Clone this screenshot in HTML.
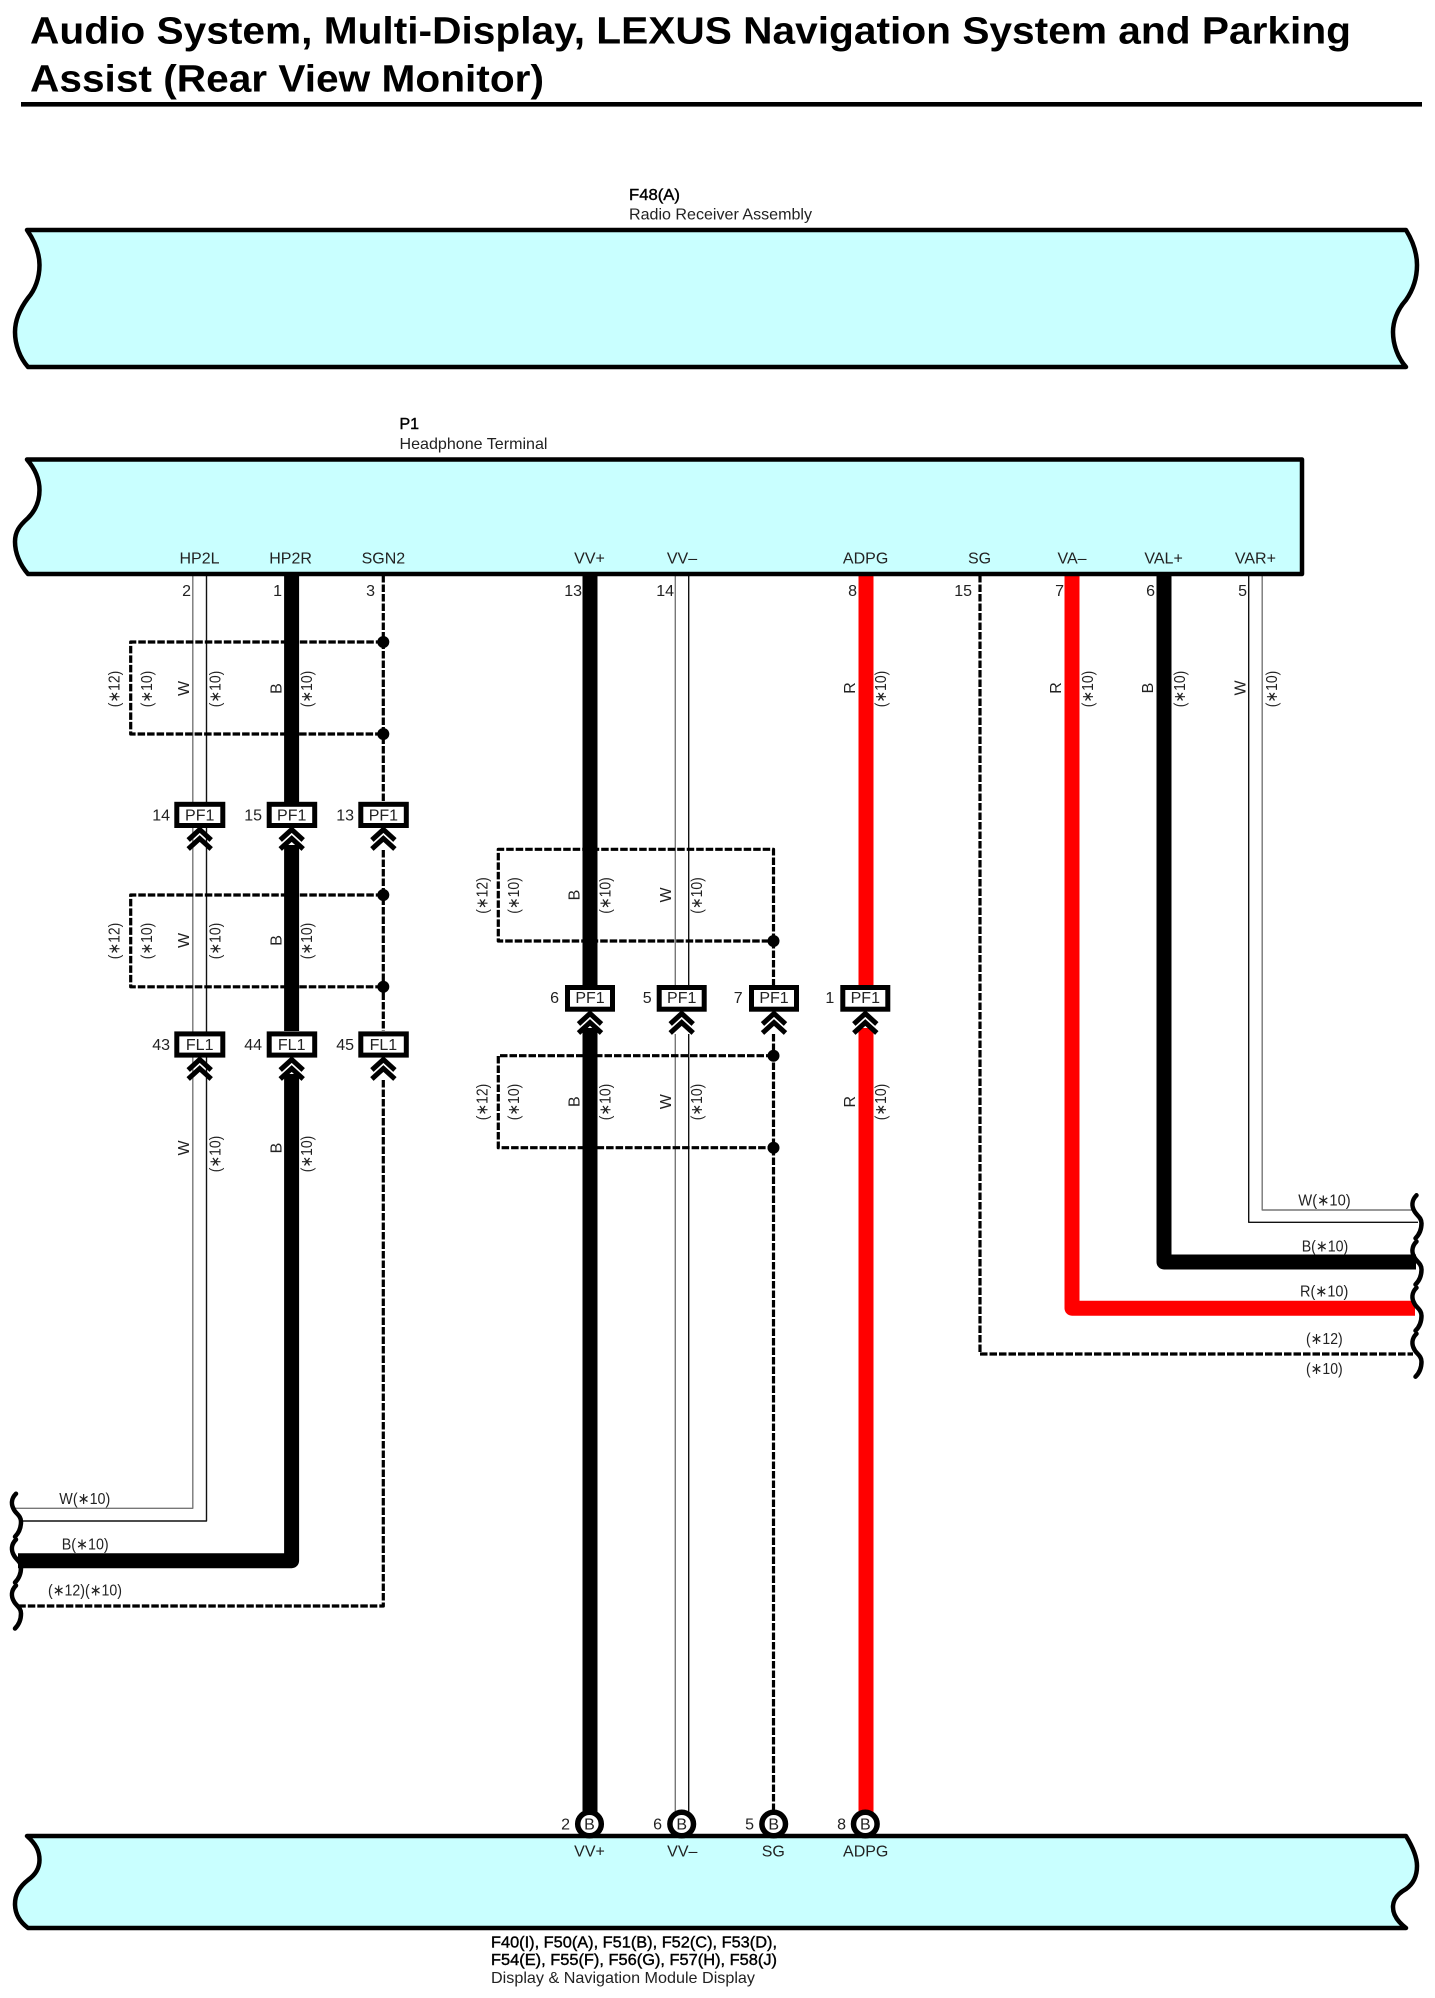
<!DOCTYPE html>
<html><head><meta charset="utf-8"><style>
html,body{margin:0;padding:0;background:#fff}
svg{display:block}
text{font-family:"Liberation Sans",sans-serif;font-size:16px;fill:#222}
.m{text-anchor:middle}.e{text-anchor:end}
.b{stroke:#000;stroke-width:.4px;fill:#000}
.n{fill:none;stroke-linejoin:round}
.k{stroke:#000;stroke-width:15}.r{stroke:#f00;stroke-width:15}
.g{stroke:#777;stroke-width:1.4}.t{stroke:#111;stroke-width:1.4}
.d{stroke:#000;stroke-width:3.2;stroke-dasharray:7.5 2;fill:none}
.box{fill:#c9ffff;stroke:#000;stroke-width:4.5;stroke-linejoin:round}
.c{fill:#fff;stroke:#000;stroke-width:5}
.o{fill:#fff;stroke:#000;stroke-width:5.5}
</style></head><body>
<svg width="1435" height="1998" viewBox="0 0 1435 1998" xmlns="http://www.w3.org/2000/svg">
<defs>
<g id="chev"><path d="M-11.5,14L0,3.5L11.5,14M-11.5,23L0,12.5L11.5,23" fill="none" stroke="#000" stroke-width="5"/></g>
<path id="br" d="M5,1C0,6 0,12 3,17C5,21 10,23 10,29C10,35 8,40 4,44" fill="none" stroke="#000" stroke-width="4.5" stroke-linecap="round"/>
</defs>

<text x="30" y="43.5" textLength="1321" lengthAdjust="spacingAndGlyphs" style="font-size:38px;font-weight:bold;fill:#000">Audio System, Multi-Display, LEXUS Navigation System and Parking</text>
<text x="30" y="91.7" textLength="514" lengthAdjust="spacingAndGlyphs" style="font-size:38px;font-weight:bold;fill:#000">Assist (Rear View Monitor)</text>
<rect x="21" y="102" width="1401" height="4.6" fill="#000"/>

<text x="629" y="200" class="b" textLength="51" lengthAdjust="spacingAndGlyphs">F48(A)</text>
<text x="629" y="219.5" textLength="183" lengthAdjust="spacingAndGlyphs">Radio Receiver Assembly</text>
<path class="box" d="M27,230L1406,230C1414,243 1417,255 1417,265C1417,278 1413,290 1406,300C1397,310 1393,322 1393,332C1393,345 1398,358 1406,367L28,367C20,358 15,345 15,332C15,322 19,310 28,298C35,290 39.5,278 39.5,265C39.5,255 36,243 27,230Z"/>

<text x="399.5" y="429" class="b">P1</text>
<text x="399.5" y="449" textLength="148" lengthAdjust="spacingAndGlyphs">Headphone Terminal</text>

<!-- wires -->
<g class="n">
<path class="g" d="M192.8,575V1508.3H15"/>
<path class="t" d="M206.5,575V1521H22"/>
<path class="k" d="M291.6,575V802M291.6,845V1031M291.6,1074V1560.7H18"/>
<path class="d" d="M383.3,575V802M383.3,850V1031M383.3,1080V1606H18"/>
<path class="d" d="M383.3,642H130.7V734H383.3"/>
<path class="d" d="M383.3,895H130.7V986.8H383.3"/>

<path class="k" d="M590,575V985M590,1028V1812"/>
<path class="g" d="M675.3,575V985M675.3,1034V1812"/>
<path class="t" d="M688.7,575V985M688.7,1034V1812"/>
<path class="d" d="M773.5,941V985M773.5,1034V1812"/>
<path class="d" d="M773.5,941V849.3H498.3V941H773.5"/>
<path class="d" d="M773.5,1055.7H498.3V1147.7H773.5"/>
<path class="r" d="M866,575V985M866,1028V1812"/>

<path class="d" d="M980,575V1354H1413"/>
<path class="r" d="M1072,575V1308.2H1415"/>
<path class="k" d="M1164,575V1262H1416"/>
<path class="t" d="M1248.7,575V1222.3H1418"/>
<path class="g" d="M1262.2,575V1210H1413"/>
</g>

<path class="box" d="M27,459.5L1302,459.5L1302,574L28,574C20,565 15,553 15,541.7C15,532 19,526 28,518C35,511 39.5,502 39.5,490C39.5,480 36,470 27,459.5Z"/>
<path class="box" d="M27,1836L1406,1836C1414,1849 1417,1859 1417,1866C1417,1876 1413,1884 1406,1889C1397,1894 1393,1900 1393,1907C1393,1915 1398,1922 1406,1928L28,1928C20,1922 15,1914 15,1904C15,1895 19,1887 28,1880C35,1875 39.5,1869 39.5,1860C39.5,1851 36,1844 27,1836Z"/>

<!-- pin names -->
<g class="m">
<text class="m" x="199.5" y="563.5">HP2L</text><text class="m" x="290.6" y="563.5">HP2R</text><text class="m" x="383.4" y="563.5">SGN2</text>
<text class="m" x="589.5" y="563.5">VV+</text><text class="m" x="682" y="563.5">VV–</text><text class="m" x="865.6" y="563.5">ADPG</text>
<text class="m" x="979.5" y="563.5">SG</text><text class="m" x="1072" y="563.5">VA–</text><text class="m" x="1163.6" y="563.5">VAL+</text><text class="m" x="1255.4" y="563.5">VAR+</text>
</g>
<text class="e" x="191" y="596">2</text><text class="e" x="282" y="596">1</text><text class="e" x="375" y="596">3</text>
<text class="e" x="582" y="596">13</text><text class="e" x="674" y="596">14</text><text class="e" x="857" y="596">8</text>
<text class="e" x="972" y="596">15</text><text class="e" x="1064" y="596">7</text><text class="e" x="1155" y="596">6</text><text class="e" x="1247" y="596">5</text>

<!-- junction dots -->
<g fill="#000">
<circle cx="383.3" cy="642" r="6"/><circle cx="383.3" cy="734" r="6"/><circle cx="383.3" cy="895" r="6"/><circle cx="383.3" cy="986.8" r="6"/>
<circle cx="773.5" cy="941" r="6"/><circle cx="773.5" cy="1055.7" r="6"/><circle cx="773.5" cy="1147.7" r="6"/>
</g>

<!-- connectors left -->
<g>
<rect class="c" x="176.8" y="804.3" width="46" height="21.2"/><rect class="c" x="269.2" y="804.3" width="45.5" height="21.2"/><rect class="c" x="360.8" y="804.3" width="45.5" height="21.2"/>
<rect class="c" x="176.8" y="1033.9" width="46" height="21.2"/><rect class="c" x="269.2" y="1033.9" width="45.5" height="21.2"/><rect class="c" x="360.8" y="1033.9" width="45.5" height="21.2"/>
<text class="m" x="199.7" y="820.7">PF1</text><text class="m" x="291.7" y="820.7">PF1</text><text class="m" x="383.4" y="820.7">PF1</text>
<text class="m" x="199.7" y="1050">FL1</text><text class="m" x="291.7" y="1050">FL1</text><text class="m" x="383.4" y="1050">FL1</text>
<text class="e" x="170" y="820.7">14</text><text class="e" x="262" y="820.7">15</text><text class="e" x="354" y="820.7">13</text>
<text class="e" x="170" y="1050">43</text><text class="e" x="262" y="1050">44</text><text class="e" x="354" y="1050">45</text>
<use href="#chev" x="199.7" y="826"/><use href="#chev" x="291.7" y="826"/><use href="#chev" x="383.4" y="826"/>
<use href="#chev" x="199.7" y="1056"/><use href="#chev" x="291.7" y="1056"/><use href="#chev" x="383.4" y="1056"/>
</g>

<!-- connectors middle -->
<g>
<rect class="c" x="567.5" y="987.5" width="45" height="21.7"/><rect class="c" x="659.2" y="987.5" width="45" height="21.7"/><rect class="c" x="751.5" y="987.5" width="45" height="21.7"/><rect class="c" x="842.8" y="987.5" width="45" height="21.7"/>
<text class="m" x="590" y="1003">PF1</text><text class="m" x="681.7" y="1003">PF1</text><text class="m" x="774" y="1003">PF1</text><text class="m" x="865.3" y="1003">PF1</text>
<text class="e" x="559" y="1003">6</text><text class="e" x="651.7" y="1003">5</text><text class="e" x="742.7" y="1003">7</text><text class="e" x="834.3" y="1003">1</text>
<use href="#chev" x="590" y="1010"/><use href="#chev" x="681.7" y="1010"/><use href="#chev" x="774" y="1010"/><use href="#chev" x="865.3" y="1010"/>
</g>

<!-- bottom connectors -->
<g>
<circle class="o" cx="589.5" cy="1824" r="11.8"/><circle class="o" cx="681.7" cy="1824" r="11.8"/><circle class="o" cx="773.7" cy="1824" r="11.8"/><circle class="o" cx="865.3" cy="1824" r="11.8"/>
<text class="m" x="589.5" y="1829.5">B</text><text class="m" x="681.7" y="1829.5">B</text><text class="m" x="773.7" y="1829.5">B</text><text class="m" x="865.3" y="1829.5">B</text>
<text class="e" x="570" y="1829.5">2</text><text class="e" x="662" y="1829.5">6</text><text class="e" x="754" y="1829.5">5</text><text class="e" x="846" y="1829.5">8</text>
<text class="m" x="589.5" y="1856.7">VV+</text><text class="m" x="682.3" y="1856.7">VV–</text><text class="m" x="773.3" y="1856.7">SG</text><text class="m" x="865.7" y="1856.7">ADPG</text>
</g>
<text x="491" y="1947.5" class="b" textLength="286" lengthAdjust="spacingAndGlyphs">F40(I), F50(A), F51(B), F52(C), F53(D),</text>
<text x="491" y="1965" class="b" textLength="286" lengthAdjust="spacingAndGlyphs">F54(E), F55(F), F56(G), F57(H), F58(J)</text>
<text x="491" y="1983" textLength="264" lengthAdjust="spacingAndGlyphs">Display &amp; Navigation Module Display</text>

<!-- rotated labels -->
<g class="m">
<text class="m" transform="translate(119.5,689) rotate(-90) scale(.87,1)">(∗12)</text><text class="m" transform="translate(152,689) rotate(-90) scale(.87,1)">(∗10)</text><text class="m" transform="translate(189,688.5) rotate(-90)">W</text><text class="m" transform="translate(220.5,689) rotate(-90) scale(.87,1)">(∗10)</text><text class="m" transform="translate(281.5,688.5) rotate(-90)">B</text><text class="m" transform="translate(312,689) rotate(-90) scale(.87,1)">(∗10)</text>
<text class="m" transform="translate(119.5,941) rotate(-90) scale(.87,1)">(∗12)</text><text class="m" transform="translate(152,941) rotate(-90) scale(.87,1)">(∗10)</text><text class="m" transform="translate(189,940.4) rotate(-90)">W</text><text class="m" transform="translate(220.5,941) rotate(-90) scale(.87,1)">(∗10)</text><text class="m" transform="translate(281.5,940.4) rotate(-90)">B</text><text class="m" transform="translate(312,941) rotate(-90) scale(.87,1)">(∗10)</text>
<text class="m" transform="translate(189,1148) rotate(-90)">W</text><text class="m" transform="translate(220.5,1154) rotate(-90) scale(.87,1)">(∗10)</text><text class="m" transform="translate(281.5,1148) rotate(-90)">B</text><text class="m" transform="translate(312,1154) rotate(-90) scale(.87,1)">(∗10)</text>

<text class="m" transform="translate(487.5,895.5) rotate(-90) scale(.87,1)">(∗12)</text><text class="m" transform="translate(519,895.5) rotate(-90) scale(.87,1)">(∗10)</text><text class="m" transform="translate(579.5,895) rotate(-90)">B</text><text class="m" transform="translate(610.5,895.5) rotate(-90) scale(.87,1)">(∗10)</text><text class="m" transform="translate(671,895) rotate(-90)">W</text><text class="m" transform="translate(702,895.5) rotate(-90) scale(.87,1)">(∗10)</text>
<text class="m" transform="translate(487.5,1102) rotate(-90) scale(.87,1)">(∗12)</text><text class="m" transform="translate(519,1102) rotate(-90) scale(.87,1)">(∗10)</text><text class="m" transform="translate(579.5,1101.7) rotate(-90)">B</text><text class="m" transform="translate(610.5,1102) rotate(-90) scale(.87,1)">(∗10)</text><text class="m" transform="translate(671,1101.7) rotate(-90)">W</text><text class="m" transform="translate(702,1102) rotate(-90) scale(.87,1)">(∗10)</text>
<text class="m" transform="translate(855,1101.7) rotate(-90)">R</text><text class="m" transform="translate(886,1102) rotate(-90) scale(.87,1)">(∗10)</text>

<text class="m" transform="translate(855,688) rotate(-90)">R</text><text class="m" transform="translate(886,689) rotate(-90) scale(.87,1)">(∗10)</text>
<text class="m" transform="translate(1061,688) rotate(-90)">R</text><text class="m" transform="translate(1093,689) rotate(-90) scale(.87,1)">(∗10)</text>
<text class="m" transform="translate(1153,688) rotate(-90)">B</text><text class="m" transform="translate(1185,689) rotate(-90) scale(.87,1)">(∗10)</text>
<text class="m" transform="translate(1245.5,688) rotate(-90)">W</text><text class="m" transform="translate(1277,689) rotate(-90) scale(.87,1)">(∗10)</text>
</g>

<!-- line labels -->
<text x="59.3" y="1504" textLength="51" lengthAdjust="spacingAndGlyphs">W(∗10)</text>
<text x="61.7" y="1549.7" textLength="47" lengthAdjust="spacingAndGlyphs">B(∗10)</text>
<text x="48" y="1595.7" textLength="74" lengthAdjust="spacingAndGlyphs">(∗12)(∗10)</text>
<text x="1298.3" y="1205.7" textLength="52.4" lengthAdjust="spacingAndGlyphs">W(∗10)</text>
<text x="1301.7" y="1251.3" textLength="46.6" lengthAdjust="spacingAndGlyphs">B(∗10)</text>
<text x="1300" y="1296.7" textLength="48.3" lengthAdjust="spacingAndGlyphs">R(∗10)</text>
<text x="1306" y="1344" textLength="36.7" lengthAdjust="spacingAndGlyphs">(∗12)</text>
<text x="1306" y="1374" textLength="36.7" lengthAdjust="spacingAndGlyphs">(∗10)</text>

<!-- break marks -->
<use href="#br" x="11" y="1492.7"/><use href="#br" x="11" y="1538.5"/><use href="#br" x="11" y="1584.5"/>
<use href="#br" x="1411.5" y="1194.3"/><use href="#br" x="1411.5" y="1240.5"/><use href="#br" x="1411.5" y="1286.7"/><use href="#br" x="1411.5" y="1332.7"/>
</svg>
</body></html>
